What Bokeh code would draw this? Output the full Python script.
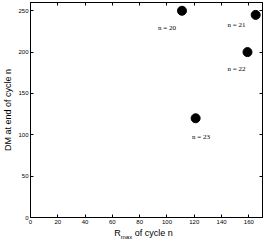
from bokeh.plotting import figure
from bokeh.models import ColumnDataSource, Range1d, LinearAxis, FixedTicker, Div
from bokeh.layouts import column
from bokeh.embed import file_html
from bokeh.resources import INLINE

# data
rmax = [111, 165, 159, 121]
dm = [250, 245, 200, 120]
labels = ["n = 20", "n = 21", "n = 22", "n = 23"]
label_x = [100, 151, 151, 125]
label_y = [229, 233, 180, 97]
x_ticks = [0, 20, 40, 60, 80, 100, 120, 140, 160]
y_ticks = [0, 50, 100, 150, 200, 250]

FONT = "Liberation Sans"

p = figure(width=265, height=226, output_backend="svg", toolbar_location=None,
           x_range=Range1d(0, 170), y_range=Range1d(0, 260),
           min_border_left=22, min_border_right=3, min_border_top=2, min_border_bottom=8,
           x_axis_label=None, y_axis_label="DM at end of cycle n")
p.grid.visible = False
p.background_fill_color = "white"
p.border_fill_color = "white"
p.outline_line_color = "black"
p.outline_line_width = 1

src = ColumnDataSource(dict(x=rmax, y=dm))
p.scatter("x", "y", source=src, size=9, color="black")

lsrc = ColumnDataSource(dict(x=label_x, y=label_y, t=labels))
p.text("x", "y", text="t", source=lsrc, text_font_size="7px", text_color="black",
       text_align="center", text_baseline="middle", text_font=FONT)

def style(ax, show_labels=True):
    ax.major_tick_in = 3
    ax.major_tick_out = 0
    ax.minor_tick_line_color = None
    ax.axis_line_color = "black"
    ax.major_tick_line_color = "black"
    ax.major_label_text_font_size = "6px"
    ax.major_label_text_font = FONT
    ax.major_label_text_color = "black" if show_labels else None
    ax.major_label_standoff = 2
    ax.axis_label_text_font_size = "9px"
    ax.axis_label_text_font = FONT
    ax.axis_label_text_color = "black"
    ax.axis_label_text_font_style = "normal"
    ax.axis_label_standoff = 2

p.xaxis[0].ticker = FixedTicker(ticks=x_ticks)
p.yaxis[0].ticker = FixedTicker(ticks=y_ticks)
style(p.xaxis[0])
style(p.yaxis[0])
p.xaxis[0].axis_label_standoff = 0

top = LinearAxis(ticker=FixedTicker(ticks=x_ticks))
style(top, False)
right = LinearAxis(ticker=FixedTicker(ticks=y_ticks))
style(right, False)
p.add_layout(top, "above")
p.add_layout(right, "right")
for ax in (top, right):
    ax.major_label_text_font_size = "0px"
    ax.major_label_standoff = 0

xlabel = Div(
    text='R<sub style="font-size:6px">max</sub> of cycle n',
    width=265, height=11, margin=(0, 0, 0, 0),
    styles={"font-family": FONT, "font-size": "9px", "color": "black",
            "text-align": "center", "padding-left": "22px", "padding-top": "3px",
            "line-height": "9px", "box-sizing": "border-box", "width": "265px"},
)

layout = column(p, xlabel, spacing=0)
open("out.html", "w").write(file_html(layout, INLINE))
